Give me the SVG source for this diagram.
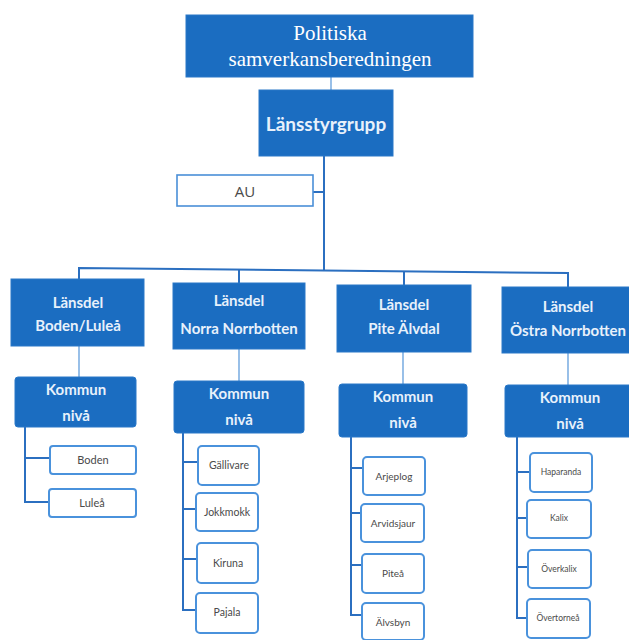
<svg xmlns="http://www.w3.org/2000/svg" width="629" height="640" viewBox="0 0 629 640">
<style>
.bg{fill:#ffffff}
.blue{fill:#1b6dc1;stroke:#2a78c8;stroke-width:1}
.leaf{fill:#ffffff;stroke:#4a92dc;stroke-width:2}
.au{fill:#ffffff;stroke:#4a8fd8;stroke-width:1.6}
.conn{fill:none;stroke:#2b6fc0;stroke-width:2}
.thin{fill:none;stroke:#7fb0e3;stroke-width:1.6}
.serif{font-family:"Liberation Serif","Times New Roman",serif;font-size:21px;fill:#ffffff;text-anchor:middle}
.head{font-family:Lato,"Open Sans",sans-serif;font-weight:bold;fill:#e8f1fb;text-anchor:middle}
.small{font-family:Lato,"Open Sans",sans-serif;fill:#4a4a4a;text-anchor:middle}
</style>
<rect class="bg" x="0" y="0" width="629" height="640"/>

<g id="connectors">
  <line class="thin" x1="331" y1="77" x2="331" y2="90"/>
  <line class="conn" x1="324" y1="156" x2="324" y2="270"/>
  <line class="conn" x1="313" y1="192" x2="324" y2="192"/>
  <polyline class="conn" points="79,280 79,268 568,273 568,287"/>
  <line class="conn" x1="239" y1="269" x2="239" y2="283"/>
  <line class="conn" x1="404" y1="271" x2="404" y2="285"/>
  <line class="thin" x1="79" y1="346" x2="79" y2="377"/>
  <line class="thin" x1="239" y1="349" x2="239" y2="381"/>
  <line class="thin" x1="403" y1="352" x2="403" y2="384"/>
  <line class="thin" x1="568" y1="353" x2="568" y2="385"/>
  <path class="conn" d="M25 427 V502 H49 M25 458 H50"/>
  <path class="conn" d="M183 433 V610 H196 M183 462 H198 M183 509 H196 M183 559 H197"/>
  <path class="conn" d="M351 437 V615 H362 M351 468 H363 M351 513 H361 M351 565 H362"/>
  <path class="conn" d="M517 437 V618 H527 M517 472 H530 M517 518 H527 M517 567 H528"/>
</g>

<g id="politiska">
  <rect class="blue" x="186" y="15" width="287" height="62"/>
  <text class="serif" x="330" y="40">Politiska</text>
  <text class="serif" x="330" y="66">samverkansberedningen</text>
</g>
<g id="lansstyrgrupp">
  <rect class="blue" x="259" y="90" width="134" height="66"/>
  <text class="head" x="326" y="131" font-size="19">Länsstyrgrupp</text>
</g>
<g id="au">
  <rect class="au" x="177" y="175" width="136" height="31"/>
  <text class="small" x="245" y="197" font-size="15" style="font-family:'Open Sans',sans-serif">AU</text>
</g>

<g id="lansdel-boden-lulea">
  <rect class="blue" x="11" y="279" width="133" height="67"/>
  <text class="head" x="78" y="308" font-size="15">Länsdel</text>
  <text class="head" x="78" y="331" font-size="15">Boden/Luleå</text>
</g>
<g id="lansdel-norra">
  <rect class="blue" x="173" y="283" width="132" height="66"/>
  <text class="head" x="239" y="306" font-size="15">Länsdel</text>
  <text class="head" x="239" y="334" font-size="15">Norra Norrbotten</text>
</g>
<g id="lansdel-pite">
  <rect class="blue" x="337" y="285" width="134" height="67"/>
  <text class="head" x="404" y="310" font-size="15">Länsdel</text>
  <text class="head" x="404" y="334" font-size="15">Pite Älvdal</text>
</g>
<g id="lansdel-ostra">
  <rect class="blue" x="502" y="287" width="140" height="66"/>
  <text class="head" x="568" y="312" font-size="15">Länsdel</text>
  <text class="head" x="568" y="336" font-size="15">Östra Norrbotten</text>
</g>

<g id="kommun-boden">
  <rect class="blue" x="15" y="377" width="121" height="50" rx="3"/>
  <text class="head" x="76" y="395" font-size="15">Kommun</text>
  <text class="head" x="76" y="421" font-size="15">nivå</text>
</g>
<g id="kommun-norra">
  <rect class="blue" x="174" y="381" width="130" height="52" rx="3"/>
  <text class="head" x="239" y="399" font-size="15">Kommun</text>
  <text class="head" x="239" y="425" font-size="15">nivå</text>
</g>
<g id="kommun-pite">
  <rect class="blue" x="339" y="384" width="128" height="53" rx="3"/>
  <text class="head" x="403" y="402" font-size="15">Kommun</text>
  <text class="head" x="403" y="428" font-size="15">nivå</text>
</g>
<g id="kommun-ostra">
  <rect class="blue" x="505" y="385" width="130" height="52" rx="3"/>
  <text class="head" x="570" y="403" font-size="15">Kommun</text>
  <text class="head" x="570" y="429" font-size="15">nivå</text>
</g>

<g id="boden"><rect class="leaf" x="50" y="446" width="86" height="28" rx="3"/><text class="small" x="93" y="464" font-size="11">Boden</text></g>
<g id="lulea"><rect class="leaf" x="49" y="489" width="87" height="28" rx="3"/><text class="small" x="92" y="507" font-size="11">Luleå</text></g>

<g id="gallivare"><rect class="leaf" x="198" y="446" width="61" height="39" rx="4"/><text class="small" x="229" y="469" font-size="10.5">Gällivare</text></g>
<g id="jokkmokk"><rect class="leaf" x="196" y="493" width="62" height="38" rx="4"/><text class="small" x="227" y="516" font-size="10.5">Jokkmokk</text></g>
<g id="kiruna"><rect class="leaf" x="197" y="543" width="61" height="40" rx="4"/><text class="small" x="228" y="567" font-size="10.5">Kiruna</text></g>
<g id="pajala"><rect class="leaf" x="196" y="593" width="62" height="40" rx="4"/><text class="small" x="227" y="616" font-size="10.5">Pajala</text></g>

<g id="arjeplog"><rect class="leaf" x="363" y="457" width="62" height="38" rx="4"/><text class="small" x="394" y="480" font-size="10">Arjeplog</text></g>
<g id="arvidsjaur"><rect class="leaf" x="361" y="504" width="63" height="38" rx="4"/><text class="small" x="393" y="527" font-size="10">Arvidsjaur</text></g>
<g id="pitea"><rect class="leaf" x="362" y="554" width="62" height="39" rx="4"/><text class="small" x="393" y="577" font-size="10">Piteå</text></g>
<g id="alvsbyn"><rect class="leaf" x="362" y="603" width="62" height="37" rx="4"/><text class="small" x="393" y="626" font-size="10">Älvsbyn</text></g>

<g id="haparanda"><rect class="leaf" x="530" y="453" width="62" height="39" rx="4"/><text class="small" x="561" y="475" font-size="8.5">Haparanda</text></g>
<g id="kalix"><rect class="leaf" x="527" y="500" width="64" height="38" rx="4"/><text class="small" x="559" y="521" font-size="8.5">Kalix</text></g>
<g id="overkalix"><rect class="leaf" x="528" y="550" width="63" height="38" rx="4"/><text class="small" x="559" y="572" font-size="8.5">Överkalix</text></g>
<g id="overtornea"><rect class="leaf" x="527" y="599" width="63" height="39" rx="4"/><text class="small" x="558" y="621" font-size="8.5">Övertorneå</text></g>
</svg>
